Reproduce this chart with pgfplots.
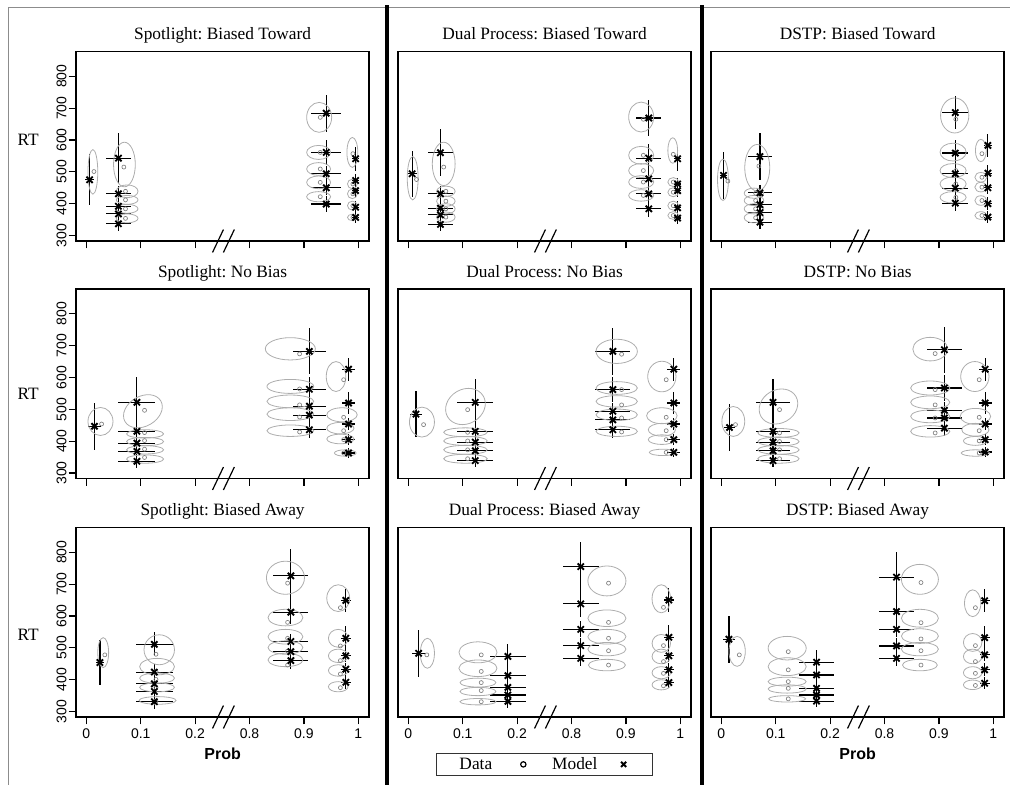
\documentclass[border=0pt]{standalone}
\usepackage{pgfplots}
\pgfplotsset{compat=1.18}
\usepackage{pgfplotstable}
\usepackage{fontspec}
\setmainfont{Liberation Serif}
\setsansfont{Liberation Sans}
\frenchspacing
\definecolor{ellgray}{gray}{0.68}
\definecolor{datgray}{gray}{0.5}

% ellipse mark: radii read per point (rx in probability units, ry in ms)
\pgfdeclareplotmark{ell}{%
  \pgfsetstrokecolor{ellgray}%
  \pgfmathsetmacro\ellax{408*\ellrx*cos(\ellang)}%
  \pgfmathsetmacro\ellay{408*\ellrx*sin(\ellang)}%
  \pgfmathsetmacro\ellbx{-0.239*\ellry*sin(\ellang)}%
  \pgfmathsetmacro\ellby{0.239*\ellry*cos(\ellang)}%
  \pgfpathellipse{\pgfpointorigin}{\pgfqpoint{\ellax pt}{\ellay pt}}{\pgfqpoint{\ellbx pt}{\ellby pt}}%
  \pgfusepathqstroke}

% broken axis: 0..0.2 -> 0..2, 0.8..1 -> 3..5
\newcommand\PX[1]{(\thisrow{#1}<0.5)*10*\thisrow{#1}+(\thisrow{#1}>0.5)*(10*\thisrow{#1}-5)}

\pgfplotsset{
 panel/.style={
  x=40.8pt, y=0.239pt, xmin=-0.19, xmax=5.2, ymin=283, ymax=877,
  anchor=south west, clip=false,
  axis line style={line width=1.1pt},
  xtick={0,1,2,3,4,5}, xticklabels={},
  ytick=\empty,
  tick style={black, line width=0.9pt}, major tick length=5.5pt, tick align=outside,
  xtick pos=left, ytick pos=left,
  title style={font=\fontsize{13}{15}\selectfont, yshift=-3.2pt, text depth=0.25em},
  ticklabel style={font=\sffamily\fontsize{10.5}{12}\selectfont},
  /pgf/number format/assume math mode=true,
 },
 leftcol/.style={ytick={300,400,...,800}, yticklabel style={rotate=90, anchor=south, inner sep=1.5pt}},
 bottomrow/.style={xticklabels={0,0.1,0.2,0.8,0.9,1}},
 problabel/.style={xlabel={Prob}, xlabel style={font=\sffamily\bfseries\fontsize{12}{14}\selectfont}},
 ellstyle/.style={forget plot, only marks, scatter, point meta=y, mark=ell, line width=0.6pt,
  scatter/@pre marker code/.code={\pgfscope\pgfsetstrokecolor{ellgray}},
  scatter/@post marker code/.code={\endpgfscope},
  visualization depends on={\thisrow{rx} \as \ellrx},
  visualization depends on={\thisrow{ry} \as \ellry},
  visualization depends on={\thisrow{ang} \as \ellang}},
 datstyle/.style={forget plot, only marks, mark=o, mark size=1.5pt, datgray, line width=0.5pt},
 modstyle/.style={forget plot, only marks, mark=x, mark size=3.3pt, black, line width=1.4pt,
  error bars/.cd, x dir=both, x explicit, y dir=both, y explicit, error mark=none,
  error bar style={line width=0.85pt, black}},
 legimgA/.style={legend image code/.code={\path[draw=none, fill=none] (0cm,-0.1cm) rectangle (0.95cm,0.1cm);
   \draw[##1] plot coordinates {(0.75cm,0cm)};}},
 legimgB/.style={legend image code/.code={\path[draw=none, fill=none] (0cm,-0.1cm) rectangle (0.85cm,0.1cm);
   \draw[##1] plot coordinates {(0.62cm,0cm)};}},
}

\newcommand\breakmarks{%
 \draw[line width=0.9pt] (axis cs:2.42,283) ++(-4.1pt,-8.6pt) -- ++(8.2pt,17.2pt);
 \draw[line width=0.9pt] (axis cs:2.62,283) ++(-4.1pt,-8.6pt) -- ++(8.2pt,17.2pt);}

\newcommand\rtlabel[1]{\node[font=\fontsize{13}{15}\selectfont] at (axis description cs:-0.163,#1) {RT};}

\newcommand\panelbody[2]{%
\addplot[ellstyle] table[x expr=\PX{ep}, y=ert] {#2};
\addplot[datstyle] table[x expr=\PX{p}, y=rt] {#2};
\addplot[modstyle] table[x expr=\PX{p}, y=rt, x error=exu, y error=ey] {#1};
\breakmarks}

%================ Spotlight: Biased Toward  (model: exu = probability half-width x 10)
\pgfplotstableread{
p rt exu ey
0.006 475 0.08 80
0.059 543 0.23 78
0.059 431 0.23 25
0.059 392 0.23 20
0.059 368 0.23 20
0.059 337 0.23 22
0.941 684 0.28 58
0.941 561 0.28 40
0.941 494 0.28 25
0.941 450 0.28 22
0.941 399 0.28 25
0.995 541 0.07 37
0.995 473 0.07 20
0.995 441 0.07 20
0.995 389 0.07 20
0.995 357 0.07 18
}\mA
\pgfplotstableread{
p rt ep ert rx ry ang
0.014 501 0.012 500 0.009 70 0
0.069 515 0.070 523 0.020 70 0
0.072 439 0.075 439 0.020 20 0
0.072 412 0.075 412 0.020 14 0
0.072 384 0.075 384 0.020 14 0
0.072 354 0.075 354 0.020 14 0
0.930 671 0.928 671 0.023 47 0
0.930 561 0.927 561 0.022 22 0
0.930 509 0.927 509 0.022 20 0
0.930 467 0.927 467 0.022 20 0
0.930 422 0.927 422 0.022 16 0
0.990 557 0.989 561 0.010 47 0
0.990 462 0.989 462 0.009 15 0
0.990 431 0.989 431 0.009 15 0
0.990 394 0.989 394 0.009 14 0
0.990 357 0.989 357 0.009 10 0
}\dA
%================ Dual Process: Biased Toward
\pgfplotstableread{
p rt exu ey
0.007 494 0.08 73
0.059 560 0.23 73
0.059 431 0.23 25
0.059 386 0.23 20
0.059 365 0.23 20
0.059 335 0.23 20
0.942 669 0.23 55
0.942 543 0.23 45
0.942 478 0.23 25
0.942 431 0.23 22
0.942 384 0.23 25
0.995 541 0.07 37
0.995 462 0.07 20
0.995 441 0.07 20
0.995 387 0.07 20
0.995 355 0.07 18
}\mB
\pgfplotstableread{
p rt ep ert rx ry ang
0.015 476 0.008 480 0.010 68 0
0.065 515 0.065 525 0.021 68 0
0.069 439 0.069 439 0.017 16 0
0.069 408 0.069 408 0.017 16 0
0.069 384 0.069 384 0.017 16 0
0.069 358 0.069 358 0.017 16 0
0.932 665 0.928 672 0.023 47 0
0.932 552 0.928 552 0.023 28 0
0.932 504 0.928 504 0.023 22 0
0.932 468 0.928 468 0.023 20 0
0.932 426 0.928 426 0.023 18 0
0.987 555 0.986 567 0.009 40 0
0.987 468 0.987 468 0.010 14 0
0.987 436 0.987 436 0.010 14 0
0.987 394 0.987 394 0.010 14 0
0.987 363 0.987 363 0.010 12 0
}\dB
%================ DSTP: Biased Toward
\pgfplotstableread{
p rt exu ey
0.004 489 0.07 73
0.071 548 0.22 73
0.071 434 0.22 25
0.071 397 0.22 20
0.071 372 0.22 20
0.071 342 0.22 20
0.930 686 0.24 52
0.930 559 0.24 42
0.930 494 0.24 25
0.930 449 0.24 22
0.930 402 0.24 25
0.990 583 0.07 37
0.990 496 0.07 25
0.990 450 0.07 20
0.990 400 0.07 20
0.990 358 0.07 20
}\mC
\pgfplotstableread{
p rt ep ert rx ry ang
0.012 471 0.003 475 0.010 65 0
0.069 518 0.066 513 0.023 73 0
0.063 433 0.060 433 0.018 16 0
0.063 410 0.060 410 0.018 16 0
0.063 384 0.060 384 0.018 16 0
0.063 356 0.060 356 0.018 16 0
0.931 665 0.929 677 0.026 55 0
0.931 562 0.926 562 0.024 28 0
0.931 504 0.926 504 0.024 22 0
0.931 462 0.926 462 0.024 22 0
0.931 420 0.926 420 0.024 18 0
0.979 557 0.977 567 0.010 35 0
0.979 483 0.977 483 0.011 15 0
0.979 452 0.977 452 0.011 15 0
0.979 410 0.977 410 0.011 15 0
0.979 363 0.977 363 0.011 12 0
}\dC
%================ Spotlight: No Bias
\pgfplotstableread{
p rt exu ey
0.015 447 0.12 73
0.093 522 0.34 80
0.093 431 0.34 25
0.093 394 0.34 20
0.093 368 0.34 20
0.093 337 0.34 22
0.910 682 0.31 72
0.910 563 0.31 40
0.910 510 0.31 25
0.910 482 0.31 22
0.910 436 0.31 25
0.982 626 0.12 36
0.982 520 0.12 35
0.982 454 0.12 20
0.982 405 0.12 18
0.982 363 0.12 15
}\mD
\pgfplotstableread{
p rt ep ert rx ry ang
0.028 454 0.026 462 0.023 44 0
0.107 497 0.104 494 0.038 47 30
0.107 427 0.108 423 0.034 13 0
0.107 402 0.108 399 0.034 13 0
0.107 375 0.108 373 0.034 13 0
0.107 349 0.108 344 0.034 13 0
0.892 674 0.875 690 0.046 35 0
0.892 564 0.875 572 0.043 22 0
0.892 514 0.875 525 0.043 20 0
0.892 476 0.875 485 0.043 20 0
0.892 429 0.875 433 0.043 18 0
0.973 593 0.959 603 0.018 47 0
0.973 475 0.970 483 0.028 22 0
0.973 433 0.967 441 0.025 18 0
0.973 405 0.967 407 0.025 15 0
0.973 363 0.976 363 0.020 10 0
}\dD
%================ Dual Process: No Bias
\pgfplotstableread{
p rt exu ey
0.014 485 0.11 73
0.123 522 0.33 73
0.123 431 0.33 25
0.123 397 0.33 20
0.123 370 0.33 20
0.123 339 0.33 20
0.876 682 0.32 73
0.876 562 0.32 40
0.876 494 0.32 25
0.876 467 0.32 22
0.876 436 0.32 25
0.988 626 0.12 36
0.988 520 0.12 35
0.988 454 0.12 20
0.988 405 0.12 18
0.988 365 0.12 15
}\mE
\pgfplotstableread{
p rt ep ert rx ry ang
0.028 452 0.025 460 0.023 47 0
0.109 499 0.105 509 0.038 54 30
0.109 428 0.105 428 0.040 14 0
0.109 401 0.105 401 0.040 14 0
0.109 373 0.105 373 0.040 14 0
0.109 345 0.105 345 0.040 14 0
0.892 673 0.883 682 0.038 38 0
0.892 562 0.883 567 0.038 20 0
0.892 514 0.883 525 0.038 18 0
0.892 473 0.883 483 0.038 18 0
0.892 429 0.883 431 0.038 16 0
0.974 593 0.966 603 0.026 48 0
0.974 475 0.966 480 0.028 25 0
0.974 433 0.966 436 0.025 20 0
0.974 405 0.966 405 0.025 15 0
0.974 365 0.968 365 0.025 10 0
}\dE
%================ DSTP: No Bias
\pgfplotstableread{
p rt exu ey
0.015 443 0.11 73
0.095 522 0.32 73
0.095 431 0.32 25
0.095 397 0.32 20
0.095 370 0.32 20
0.095 339 0.32 20
0.910 687 0.32 73
0.910 567 0.32 40
0.910 497 0.32 25
0.910 473 0.32 22
0.910 441 0.32 25
0.985 626 0.12 36
0.985 520 0.12 35
0.985 454 0.12 20
0.985 405 0.12 18
0.985 366 0.12 15
}\mF
\pgfplotstableread{
p rt ep ert rx ry ang
0.026 452 0.022 462 0.021 47 0
0.107 499 0.105 509 0.037 52 30
0.107 426 0.105 426 0.038 14 0
0.107 399 0.105 399 0.038 14 0
0.107 373 0.105 373 0.038 14 0
0.107 345 0.105 345 0.038 14 0
0.893 675 0.884 689 0.032 37 0
0.893 562 0.884 567 0.036 22 0
0.893 514 0.884 522 0.036 20 0
0.893 473 0.884 478 0.036 20 0
0.893 426 0.884 431 0.036 18 0
0.974 593 0.966 603 0.026 47 0
0.974 475 0.967 478 0.028 25 0
0.974 433 0.967 436 0.025 20 0
0.974 401 0.967 401 0.022 14 0
0.974 363 0.967 363 0.026 10 0
}\dF
%================ Spotlight: Biased Away
\pgfplotstableread{
p rt exu ey
0.025 454 0.07 70
0.125 511 0.34 38
0.125 424 0.34 25
0.125 387 0.34 20
0.125 363 0.34 20
0.125 331 0.34 22
0.876 726 0.32 85
0.876 612 0.32 38
0.876 520 0.32 25
0.876 488 0.32 22
0.876 460 0.32 25
0.977 649 0.09 37
0.977 530 0.09 40
0.977 475 0.09 20
0.977 433 0.09 20
0.977 392 0.09 20
}\mG
\pgfplotstableread{
p rt ep ert rx ry ang
0.034 478 0.031 485 0.010 47 0
0.128 480 0.134 494 0.028 47 0
0.128 426 0.130 441 0.032 26 0
0.128 401 0.130 405 0.032 16 0
0.128 375 0.130 376 0.032 14 0
0.128 333 0.131 335 0.034 12 0
0.870 703 0.866 720 0.035 52 0
0.870 580 0.866 595 0.032 26 0
0.870 530 0.866 535 0.032 23 0
0.870 490 0.866 501 0.032 21 0
0.870 446 0.866 462 0.032 21 0
0.967 626 0.963 656 0.021 42 0
0.967 506 0.963 530 0.018 28 0
0.967 460 0.963 475 0.018 21 0
0.967 418 0.963 429 0.018 18 0
0.967 375 0.963 378 0.018 16 0
}\dG
%================ Dual Process: Biased Away
\pgfplotstableread{
p rt exu ey
0.019 483 0.13 73
0.183 473 0.33 38
0.183 413 0.33 25
0.183 376 0.33 20
0.183 352 0.33 20
0.183 332 0.33 20
0.817 755 0.33 78
0.817 638 0.33 40
0.817 558 0.33 25
0.817 507 0.33 25
0.817 467 0.33 25
0.979 650 0.09 37
0.979 533 0.09 38
0.979 475 0.09 20
0.979 431 0.09 20
0.979 391 0.09 18
}\mH
\pgfplotstableread{
p rt ep ert rx ry ang
0.034 478 0.035 483 0.013 47 0
0.134 478 0.128 486 0.035 33 0
0.134 426 0.128 436 0.035 26 0
0.134 391 0.128 391 0.033 14 0
0.134 366 0.128 363 0.033 13 0
0.134 331 0.128 331 0.033 10 0
0.868 703 0.865 710 0.035 47 0
0.868 580 0.865 593 0.035 26 0
0.868 530 0.865 535 0.035 23 0
0.868 491 0.865 496 0.035 21 0
0.868 446 0.865 446 0.034 18 0
0.969 627 0.965 654 0.017 44 0
0.969 507 0.965 514 0.017 28 0
0.969 457 0.965 473 0.017 23 0
0.969 420 0.965 422 0.017 19 0
0.969 381 0.965 384 0.017 16 0
}\dH
%================ DSTP: Biased Away
\pgfplotstableread{
p rt exu ey
0.014 527 0.11 73
0.175 455 0.32 37
0.175 415 0.32 25
0.175 373 0.32 20
0.175 352 0.32 20
0.175 333 0.32 20
0.822 722 0.32 80
0.822 614 0.32 40
0.822 558 0.32 25
0.822 506 0.32 25
0.822 467 0.32 25
0.984 648 0.09 37
0.984 532 0.09 38
0.984 478 0.09 20
0.984 431 0.09 20
0.984 389 0.09 18
}\mI
\pgfplotstableread{
p rt ep ert rx ry ang
0.033 478 0.029 489 0.015 47 0
0.123 488 0.121 499 0.035 37 0
0.123 431 0.121 441 0.035 28 0
0.123 394 0.121 394 0.035 14 0
0.123 373 0.121 371 0.035 13 0
0.123 340 0.121 340 0.034 10 0
0.867 705 0.865 715 0.034 47 0
0.867 579 0.865 593 0.034 28 0
0.867 528 0.865 537 0.034 23 0
0.867 491 0.865 496 0.034 21 0
0.867 446 0.865 446 0.032 18 0
0.967 626 0.962 640 0.015 42 0
0.967 507 0.962 517 0.017 28 0
0.967 457 0.962 473 0.017 23 0
0.967 420 0.962 422 0.017 19 0
0.967 382 0.962 384 0.017 15 0
}\dI

\begin{document}
\begin{tikzpicture}
\useasboundingbox (0,0) rectangle (757.5pt,-588.75pt);
% thin outer frame
\draw[black!45, line width=0.6pt] (6.4pt,-588.75pt) -- (6.4pt,-5.25pt) -- (757.5pt,-5.25pt);

% row 1
\begin{axis}[panel, at={(57pt,-180.75pt)}, title={Spotlight: Biased Toward}, leftcol]
\rtlabel{0.537}
\panelbody{\mA}{\dA}
\end{axis}
\begin{axis}[panel, at={(298.5pt,-180.75pt)}, title={Dual Process: Biased Toward}]
\panelbody{\mB}{\dB}
\end{axis}
\begin{axis}[panel, at={(533.25pt,-180.75pt)}, title={DSTP: Biased Toward}]
\panelbody{\mC}{\dC}
\end{axis}
% row 2
\begin{axis}[panel, at={(57pt,-358.875pt)}, title={Spotlight: No Bias}, leftcol]
\rtlabel{0.445}
\panelbody{\mD}{\dD}
\end{axis}
\begin{axis}[panel, at={(298.5pt,-358.875pt)}, title={Dual Process: No Bias}]
\panelbody{\mE}{\dE}
\end{axis}
\begin{axis}[panel, at={(533.25pt,-358.875pt)}, title={DSTP: No Bias}]
\panelbody{\mF}{\dF}
\end{axis}
% row 3
\begin{axis}[panel, at={(57pt,-537.75pt)}, title={Spotlight: Biased Away}, leftcol, bottomrow, problabel]
\rtlabel{0.434}
\panelbody{\mG}{\dG}
\end{axis}
\begin{axis}[panel, at={(298.5pt,-537.75pt)}, title={Dual Process: Biased Away}, bottomrow,
  legend plot pos=right,
  legend style={at={(0.5,-0.19)}, anchor=north, draw=black!80, line width=0.6pt,
   font=\fontsize{13}{15}\selectfont, legend columns=2,
   /tikz/every even column/.append style={column sep=14pt},
   inner xsep=15pt, inner ysep=1pt}]
\addlegendimage{only marks, mark=o, mark size=2pt, black, line width=0.9pt, legimgA}
\addlegendimage{only marks, mark=x, mark size=2.7pt, black, line width=1.5pt, legimgB}
\legend{Data, Model}
\panelbody{\mH}{\dH}
\end{axis}
\begin{axis}[panel, at={(533.25pt,-537.75pt)}, title={DSTP: Biased Away}, bottomrow, problabel]
\panelbody{\mI}{\dI}
\end{axis}

% thick column separators
\fill[black] (288.75pt,-3.75pt) rectangle (291.75pt,-588.75pt);
\fill[black] (525pt,-3.75pt) rectangle (528pt,-588.75pt);
\end{tikzpicture}
\end{document}
